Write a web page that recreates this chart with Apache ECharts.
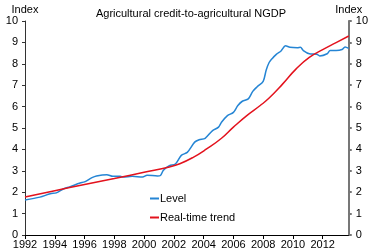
<!DOCTYPE html>
<html>
<head>
<meta charset="utf-8">
<script src="https://cdn.jsdelivr.net/npm/echarts@6/dist/echarts.min.js"></script>
<style>
html, body { margin: 0; padding: 0; background: #fff; }
#chart { width: 371px; height: 252px; }
</style>
</head>
<body>
<div id="chart"></div>
<script>
var levelYears = [1992.0, 1993.0, 1993.7, 1994.1, 1994.6, 1995.0, 1995.7, 1996.0, 1996.5, 1996.8,
	1997.5, 1997.9, 1998.4, 1998.6, 1999.2, 1999.9, 2000.2, 2000.9, 2001.1, 2001.3,
	2001.7, 2002.1, 2002.5, 2002.9, 2003.4, 2003.7, 2004.1, 2004.6, 2005.0, 2005.2,
	2005.6, 2006.0, 2006.3, 2006.6, 2007.0, 2007.3, 2007.6, 2008.0, 2008.2, 2008.4,
	2008.6, 2008.9, 2009.2, 2009.5, 2009.8, 2010.3, 2010.5, 2010.7, 2011.1, 2011.6,
	2011.8, 2012.3, 2012.5, 2012.9, 2013.3, 2013.5, 2013.75];
var levelValues = [1.64, 1.77, 1.93, 1.97, 2.16, 2.25, 2.43, 2.48, 2.68, 2.76,
	2.82, 2.74, 2.74, 2.71, 2.74, 2.71, 2.79, 2.76, 2.78, 3.03,
	3.24, 3.32, 3.72, 3.86, 4.34, 4.45, 4.52, 4.88, 5.04, 5.27,
	5.58, 5.73, 6.05, 6.25, 6.36, 6.71, 6.93, 7.18, 7.70, 8.06,
	8.24, 8.45, 8.60, 8.84, 8.77, 8.75, 8.77, 8.62, 8.47, 8.45,
	8.37, 8.47, 8.62, 8.62, 8.67, 8.79, 8.72];

var trendYears = [1992.0, 1994.0, 1996.0, 1998.0, 2000.0, 2001.7, 2002.4, 2003.3, 2004.2, 2005.2,
	2006.0, 2006.9, 2007.8, 2008.4, 2009.3, 2010.2, 2011.1, 2012.0, 2012.9, 2013.75];
var trendValues = [1.78, 2.07, 2.36, 2.64, 2.93, 3.18, 3.33, 3.63, 4.02, 4.52,
	5.04, 5.58, 6.05, 6.40, 7.05, 7.75, 8.30, 8.66, 8.99, 9.30];

function pairs(xs, ys) {
	return xs.map(function (x, i) { return [x, ys[i]]; });
}

var font = 'Liberation Sans, Arial, sans-serif';
var myChart = echarts.init(document.getElementById('chart'));

var yAxisBase = {
	type: 'value',
	min: 0,
	max: 10,
	interval: 1,
	name: 'Index',
	nameLocation: 'end',
	nameGap: 4,
	splitLine: { show: false },
	axisLabel: { color: '#000', fontSize: 11, fontFamily: font, margin: 7 }
};

option = {
	animation: false,
	title: {
		text: 'Agricultural credit-to-agricultural NGDP',
		left: 186,
		top: 3,
		textAlign: 'center',
		textStyle: { fontSize: 11, fontWeight: 'normal', color: '#000', fontFamily: font }
	},
	grid: { left: 25, right: 22, top: 21, bottom: 17 },
	legend: {
		orient: 'vertical',
		left: 145,
		top: 188,
		itemGap: 8,
		itemWidth: 9,
		itemHeight: 2,
		icon: 'rect',
		textStyle: { fontSize: 11, color: '#000', fontFamily: font, padding: [0, 0, 0, -4] },
		data: ['Level', 'Real-time trend']
	},
	xAxis: {
		type: 'value',
		min: 1992,
		max: 2013.75,
		interval: 2,
		splitLine: { show: false },
		axisLine: { lineStyle: { color: '#000', width: 1 } },
		axisTick: { length: 4, lineStyle: { color: '#000' } },
		axisLabel: {
			color: '#000', fontSize: 11, fontFamily: font, margin: 4, showMaxLabel: false,
			formatter: function (v) { return String(v); }
		}
	},
	yAxis: [
		Object.assign({}, yAxisBase, {
			position: 'left',
			nameTextStyle: { color: '#000', fontSize: 11, fontFamily: font, align: 'center' },
			axisLine: { show: true, lineStyle: { color: '#333', width: 1 } },
			axisTick: { show: true, length: 3, lineStyle: { color: '#333' } }
		}),
		Object.assign({}, yAxisBase, {
			position: 'right',
			nameTextStyle: { color: '#000', fontSize: 11, fontFamily: font, align: 'center' },
			axisLine: { show: true, lineStyle: { color: '#777', width: 2 } },
			axisTick: { show: true, length: 3, lineStyle: { color: '#777', width: 2 } }
		})
	],
	series: [{
		name: 'Level',
		type: 'line',
		data: pairs(levelYears, levelValues),
		showSymbol: false,
		smooth: 0.3,
		lineStyle: { color: '#2585d4', width: 1.5 },
		itemStyle: { color: '#2585d4' }
	}, {
		name: 'Real-time trend',
		type: 'line',
		data: pairs(trendYears, trendValues),
		showSymbol: false,
		smooth: true,
		lineStyle: { color: '#e3121d', width: 1.5 },
		itemStyle: { color: '#e3121d' }
	}]
};

myChart.setOption(option);
</script>
</body>
</html>
